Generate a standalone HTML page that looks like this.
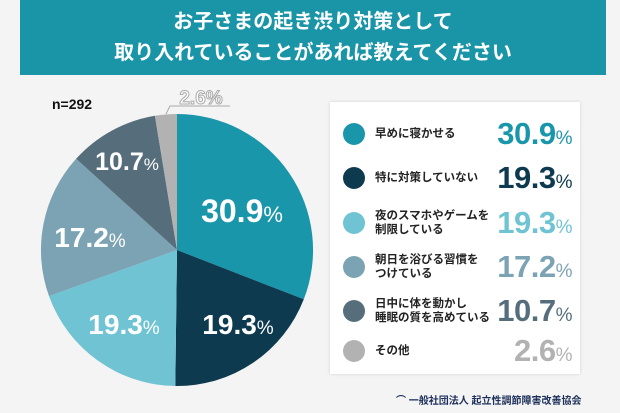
<!DOCTYPE html>
<html><head><meta charset="utf-8"><style>
body{margin:0;width:620px;height:413px;background:#f4f4f4;overflow:hidden;font-family:"Liberation Sans","Noto Sans CJK JP",sans-serif;position:relative}
.hd{position:absolute;left:20px;top:0;width:586px;height:75px;background:#1a95a8;color:#fff;text-align:center;font-weight:bold;font-size:20px;line-height:31px;padding-top:7px;box-sizing:border-box}
.lg{position:absolute;left:330px;top:102px;width:250px;height:272px;background:#fff;box-shadow:0 0 3px rgba(0,0,0,.15)}
.row{position:absolute;left:0;width:250px;height:40px}
.dot{position:absolute;left:13px;width:22px;height:22px;border-radius:50%}
.lb{position:absolute;left:45px;font-size:11.5px;font-weight:bold;color:#222;line-height:14px}
.pc{position:absolute;right:8px;font-size:31px;font-weight:bold;line-height:30px;letter-spacing:-0.5px}
.pc small{font-size:19px;font-weight:normal}
</style></head><body>
<div class="hd">お子さまの起き渋り対策として<br>取り入れていることがあれば教えてください</div>
<div style="position:absolute;left:52px;top:96px;font-size:14px;font-weight:bold;color:#111">n=292</div>
<svg width="620" height="413" style="position:absolute;left:0;top:0">
<path d="M177,250 L177,114 A136,136 0 0 1 303.8,299.3Z" fill="#1a96ab"/>
<path d="M177,250 L303.8,299.3 A136,136 0 0 1 175.3,386Z" fill="#0e3a50"/>
<path d="M177,250 L175.3,386 A136,136 0 0 1 49,296.1Z" fill="#6fc3d3"/>
<path d="M177,250 L49,296.1 A136,136 0 0 1 76.1,158.8Z" fill="#7ca3b4"/>
<path d="M177,250 L76.1,158.8 A136,136 0 0 1 154.9,115.8Z" fill="#566e7c"/>
<path d="M177,250 L154.9,115.8 A136,136 0 0 1 177,114Z" fill="#b2b2b2"/>
<polyline points="166,114 170,106 230,106" fill="none" stroke="#aaa" stroke-width="1"/>
<text x="201" y="104" font-size="19" font-weight="bold" fill="#fff" stroke="#aaa" stroke-width="1" text-anchor="middle" font-family="Liberation Sans">2.6%</text>
<g fill="#fff" font-weight="bold" font-family="Liberation Sans" text-anchor="middle">
<text x="242" y="222" font-size="32">30.9<tspan font-size="22" font-weight="normal">%</tspan></text>
<text x="238" y="334" font-size="28">19.3<tspan font-size="19" font-weight="normal">%</tspan></text>
<text x="124" y="334" font-size="28">19.3<tspan font-size="19" font-weight="normal">%</tspan></text>
<text x="90" y="247" font-size="28">17.2<tspan font-size="19" font-weight="normal">%</tspan></text>
<text x="127" y="170" font-size="25">10.7<tspan font-size="17" font-weight="normal">%</tspan></text>
</g>
</svg>
<div class="lg">
<div class="row" style="top:12px"><div class="dot" style="background:#1a96ab;top:9px"></div><div class="lb" style="top:13px">早めに寝かせる</div><div class="pc" style="top:5px;color:#1a96ab">30.9<small>%</small></div></div>
<div class="row" style="top:56px"><div class="dot" style="background:#0e3a50;top:9px"></div><div class="lb" style="top:13px">特に対策していない</div><div class="pc" style="top:5px;color:#0e3a50">19.3<small>%</small></div></div>
<div class="row" style="top:101px"><div class="dot" style="background:#6fc3d3;top:9px"></div><div class="lb" style="top:6px">夜のスマホやゲームを<br>制限している</div><div class="pc" style="top:5px;color:#6fc3d3">19.3<small>%</small></div></div>
<div class="row" style="top:145px"><div class="dot" style="background:#7ca3b4;top:9px"></div><div class="lb" style="top:6px">朝日を浴びる習慣を<br>つけている</div><div class="pc" style="top:5px;color:#7ca3b4">17.2<small>%</small></div></div>
<div class="row" style="top:189px"><div class="dot" style="background:#566e7c;top:9px"></div><div class="lb" style="top:6px">日中に体を動かし<br>睡眠の質を高めている</div><div class="pc" style="top:5px;color:#566e7c">10.7<small>%</small></div></div>
<div class="row" style="top:229px"><div class="dot" style="background:#b2b2b2;top:9px"></div><div class="lb" style="top:13px">その他</div><div class="pc" style="top:5px;color:#b2b2b2">2.6<small>%</small></div></div>
</div>
<div style="position:absolute;left:396px;top:392px;font-size:10px;font-weight:bold;color:#1c2f5a">⌒ 一般社団法人 起立性調節障害改善協会</div>
</body></html>
